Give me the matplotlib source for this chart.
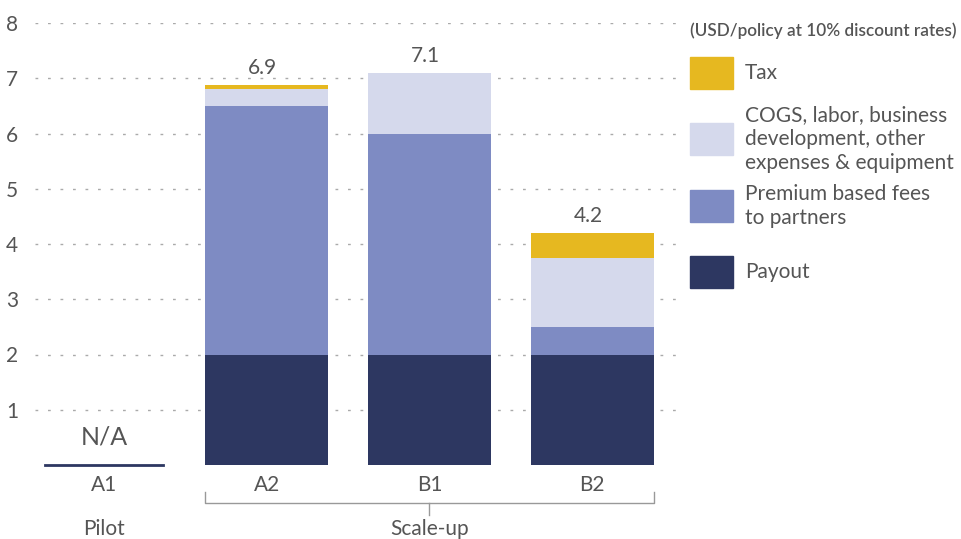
import matplotlib.pyplot as plt
from matplotlib.patches import Rectangle
from matplotlib.lines import Line2D
import numpy as np

plt.rcParams['font.family'] = ['Lato', 'DejaVu Sans']

# data
categories = ["A1", "A2", "B1", "B2"]
payout = [0.0, 2.0, 2.0, 2.0]
premium = [0.0, 4.5, 4.0, 0.5]
cogs = [0.0, 0.3, 1.1, 1.25]
tax = [0.0, 0.07, 0.0, 0.45]
totals = [None, 6.9, 7.1, 4.2]
series_names = ["Payout", "Premium based fees\nto partners",
                "COGS, labor, business\ndevelopment, other\nexpenses & equipment", "Tax"]
colors = ["#2d3761", "#7e8bc3", "#d5d9ec", "#e6b820"]
text_col = "#555555"

fig = plt.figure(figsize=(9.62, 5.39), dpi=100)
W, H = 962, 539
ax = fig.add_axes([35 / W, 1 - 465 / H, 645 / W, 442 / H])

x = np.arange(len(categories))
width = 0.755
bottom = np.zeros(len(categories))
for vals, c in zip([payout, premium, cogs, tax], colors):
    vals = np.array(vals)
    ax.bar(x[1:], vals[1:], width, bottom=bottom[1:], color=c, zorder=2)
    bottom += vals

for xi, t, b in zip(x, totals, bottom):
    if t is not None:
        ax.annotate(f"{t}", (xi, b), xytext=(-3, 5), textcoords="offset points",
                    ha="center", va="bottom", fontsize=15, color=text_col)

# A1 not available
ax.plot([x[0] - 0.36, x[0] + 0.36], [0, 0], color=colors[0], lw=2, zorder=3,
        clip_on=False)
ax.text(x[0], 0.3, "N/A", ha="center", va="bottom", fontsize=18, color=text_col)

ax.set_xlim(-0.424, 3.54)
ax.set_ylim(0, 8)
ax.set_yticks(range(1, 9))
ax.tick_params(axis="y", length=0, labelsize=15, labelcolor=text_col, pad=12)
ax.set_xticks(x)
ax.set_xticklabels(categories)
ax.tick_params(axis="x", length=0, labelsize=15, labelcolor=text_col, pad=7)
ax.grid(axis="y", linestyle=(0, (2, 7)), color="#aaaaaa", lw=1, zorder=0)
for s in ax.spines.values():
    s.set_visible(False)

# bracket under scale-up bars
trans = ax.get_xaxis_transform()
yb = -0.085
bx0, bx1 = x[1] - width / 2, x[3] + width / 2
ax.add_line(Line2D([bx0, bx0, bx1, bx1], [-0.06, yb, yb, -0.06], color="#999999",
                   lw=1, transform=trans, clip_on=False))
ax.add_line(Line2D([x[2], x[2]], [yb, yb - 0.028], color="#999999", lw=1,
                   transform=trans, clip_on=False))
ax.text(x[0], -0.145, "Pilot", transform=trans, ha="center", va="center",
        fontsize=15, color=text_col)
ax.text(x[2], -0.145, "Scale-up", transform=trans, ha="center", va="center",
        fontsize=15, color=text_col)

# legend drawn by hand on the right
fig.text(690 / W, 1 - 31 / H, "(USD/policy at 10% discount rates)", fontsize=12.3,
         color=text_col, va="center", weight="semibold")
leg_y = [73, 139, 206, 272]
for name, c, yc in zip(series_names[::-1], colors[::-1], leg_y):
    fig.patches.append(Rectangle((690 / W, 1 - (yc + 16) / H), 43 / W, 32 / H,
                                 color=c, transform=fig.transFigure))
    fig.text(745 / W, 1 - yc / H, name, fontsize=15, color=text_col, va="center",
             linespacing=1.25)

fig.savefig("out.png", dpi=100)
